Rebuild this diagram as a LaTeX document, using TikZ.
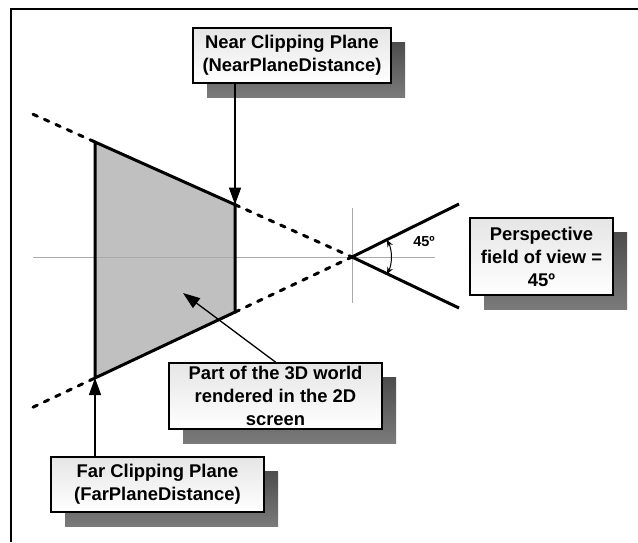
\documentclass[tikz,border=0pt]{standalone}
\usepackage{fontspec}
\setmainfont{Liberation Sans}
\usetikzlibrary{calc,shadows,arrows.meta}

\definecolor{volume}{RGB}{192,192,192}
\definecolor{guide}{RGB}{170,170,170}

\tikzset{
  labelbox/.style={draw=black, line width=1.8pt, top color=black!10, bottom color=white,
    align=center, inner sep=0pt, font=\fontsize{18.4}{23}\selectfont\bfseries,
    general shadow={shadow xshift=14pt, shadow yshift=-14pt, draw=none,
      top color=black!70, bottom color=black!52}},
  planeedge/.style={line width=3pt, line join=miter},
  sightline/.style={line width=3pt, dash pattern=on 4.8pt off 7.7pt, line cap=round},
  pointer/.style={line width=1.3pt, -{Triangle[length=17pt,width=12pt]}},
  axis/.style={line width=0.6pt, guide}
}

\begin{document}
\begin{tikzpicture}[x=1pt,y=-1pt]
  \useasboundingbox (0,0) rectangle (638,542);

  % partial frame
  \draw[line width=2pt] (11,542) -- (11,9) -- (638,9);

  % camera and frustum corners
  \coordinate (apex) at (352,257);
  \coordinate (ft) at (95,142);
  \coordinate (fb) at (95,378);
  \coordinate (nt) at ($(apex)!117/257!(ft)$);
  \coordinate (nb) at ($(apex)!117/257!(fb)$);
  \coordinate (lt) at ($(apex)!319/257!(ft)$);
  \coordinate (lb) at ($(apex)!319/257!(fb)$);
  \coordinate (rt) at (459,204);
  \coordinate (rb) at (459,308);

  % visible volume
  \fill[volume] (ft) -- (nt) -- (nb) -- (fb) -- cycle;

  % guide axes through the camera
  \coordinate (axl) at (33,257);
  \coordinate (axr) at (435,257);
  \coordinate (axt) at (352,208);
  \coordinate (axb) at (352,303);
  \draw[axis] (axl) -- (axr);
  \draw[axis] (axt) -- (axb);

  \draw[planeedge] (ft) -- (nt) -- (nb) -- (fb) -- cycle;

  % lines of sight
  \draw[sightline] (lt) -- (ft);
  \draw[sightline] (lb) -- (fb);
  \draw[sightline] (nt) -- (apex);
  \draw[sightline] (nb) -- (apex);

  % field of view
  \draw[line width=3pt] (rt) -- (apex) -- (rb);
  \draw[line width=1pt, {Stealth[length=7pt,width=6pt]}-{Stealth[length=7pt,width=6pt]}]
    (apex) ++(-26:39) arc[start angle=-26, end angle=26, radius=39];
  \node[font=\fontsize{14.5}{16}\selectfont\bfseries] (fovlabel) at (424,242) {45º};

  % labels
  \node[labelbox, minimum width=198pt, minimum height=55pt] (near) at (292,55.5)
    {Near Clipping Plane\\(NearPlaneDistance)};
  \node[labelbox, minimum width=143pt, minimum height=77pt] (persp) at (541.5,256.5)
    {Perspective\\field of view =\\45º};
  \node[labelbox, minimum width=213pt, minimum height=66pt] (part) at (275.5,396)
    {Part of the 3D world\\rendered in the 2D\\screen};
  \node[labelbox, minimum width=213pt, minimum height=55pt] (far) at (157.5,484.5)
    {Far Clipping Plane\\(FarPlaneDistance)};

  % pointers
  \coordinate (inside) at (183,293);
  \draw[pointer] (nt |- near.south) -- (nt);
  \draw[pointer] (fb |- far.north) -- (fb);
  \draw[pointer] (part.north) -- (inside);
\end{tikzpicture}
\end{document}
